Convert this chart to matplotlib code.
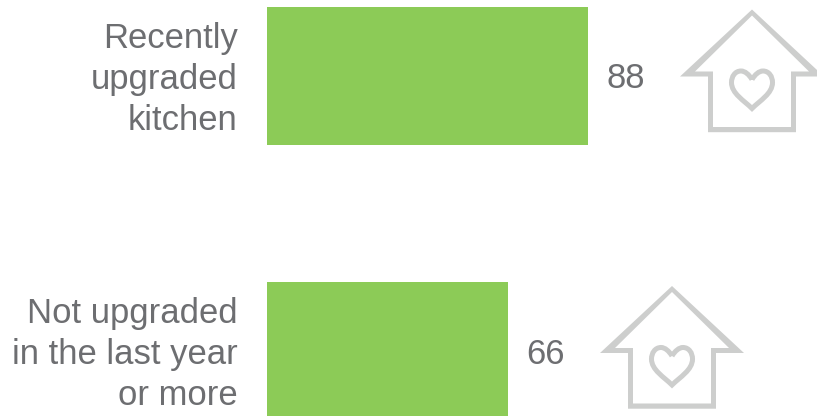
import matplotlib
matplotlib.use("Agg")
import matplotlib.pyplot as plt
from matplotlib.path import Path
from matplotlib.patches import PathPatch

categories = ["Recently\nupgraded\nkitchen", "Not upgraded\nin the last year\nor more"]
values = [88, 66]

W, H = 817, 416
GREEN = "#8CCB57"
TEXT = "#6D6E71"
ICON = "#CDCECD"
plt.rcParams["font.family"] = ["Liberation Sans", "DejaVu Sans"]

fig = plt.figure(figsize=(W / 100, H / 100), dpi=100)
ax = fig.add_axes([0, 0, 1, 1])
ppu = 321 / 88
ax.set_xlim(-267 / ppu, (W - 267) / ppu)
ypx = 275.0
ax.set_ylim((H - 76) / ypx, -76 / ypx)
ax.axis("off")
ax.barh(range(len(values)), values, height=138 / ypx, color=GREEN)
for i, (c, v) in enumerate(zip(categories, values)):
    ax.annotate(c, (0, i), xytext=(-29.5, -3.5), xycoords="data", textcoords="offset pixels",
                ha="right", va="center", ma="right", fontsize=24.9, color=TEXT, linespacing=1.29)
    ax.annotate(str(v), (v, i), xytext=(19, -3), xycoords="data", textcoords="offset pixels",
                ha="left", va="center", fontsize=24.9, color=TEXT)

# overlay in pixel space for the house icons
ov = fig.add_axes([0, 0, 1, 1])
ov.set_xlim(0, W)
ov.set_ylim(H, 0)
ov.axis("off")
ov.patch.set_alpha(0)

OUTER = [(0, 0), (-72, 67), (-44, 67), (-44, 122.7), (44, 122.7), (44, 67), (72, 67), (0, 0)]
INNER = [(0, 6), (-57, 62), (-39, 62), (-39, 117.5), (39, 117.5), (39, 62), (57, 62), (0, 6)]
HEART = [(0, 70), (-3, 65), (-7, 61.5), (-11, 61.5), (-17, 61.5), (-20.5, 67), (-20.5, 73),
         (-20.5, 84), (-8, 91), (0, 99),
         (8, 91), (20.5, 84), (20.5, 73), (20.5, 67), (17, 61.5), (11, 61.5), (7, 61.5), (3, 65), (0, 70)]

def house(cx, top):
    shift = lambda pts: [(cx + a, top + b) for a, b in pts]
    verts = shift(OUTER) + shift(INNER[::-1])
    part = [Path.MOVETO] + [Path.LINETO] * 6 + [Path.CLOSEPOLY]
    ov.add_patch(PathPatch(Path(verts, part + part), fc=ICON, ec="none", lw=0))
    hc = [Path.MOVETO] + [Path.CURVE4] * 18
    ov.add_patch(PathPatch(Path(shift(HEART), hc), fill=False, ec=ICON, lw=3.6))

house(752, 9.5)
house(672, 286)

fig.savefig("out.png", dpi=100)
